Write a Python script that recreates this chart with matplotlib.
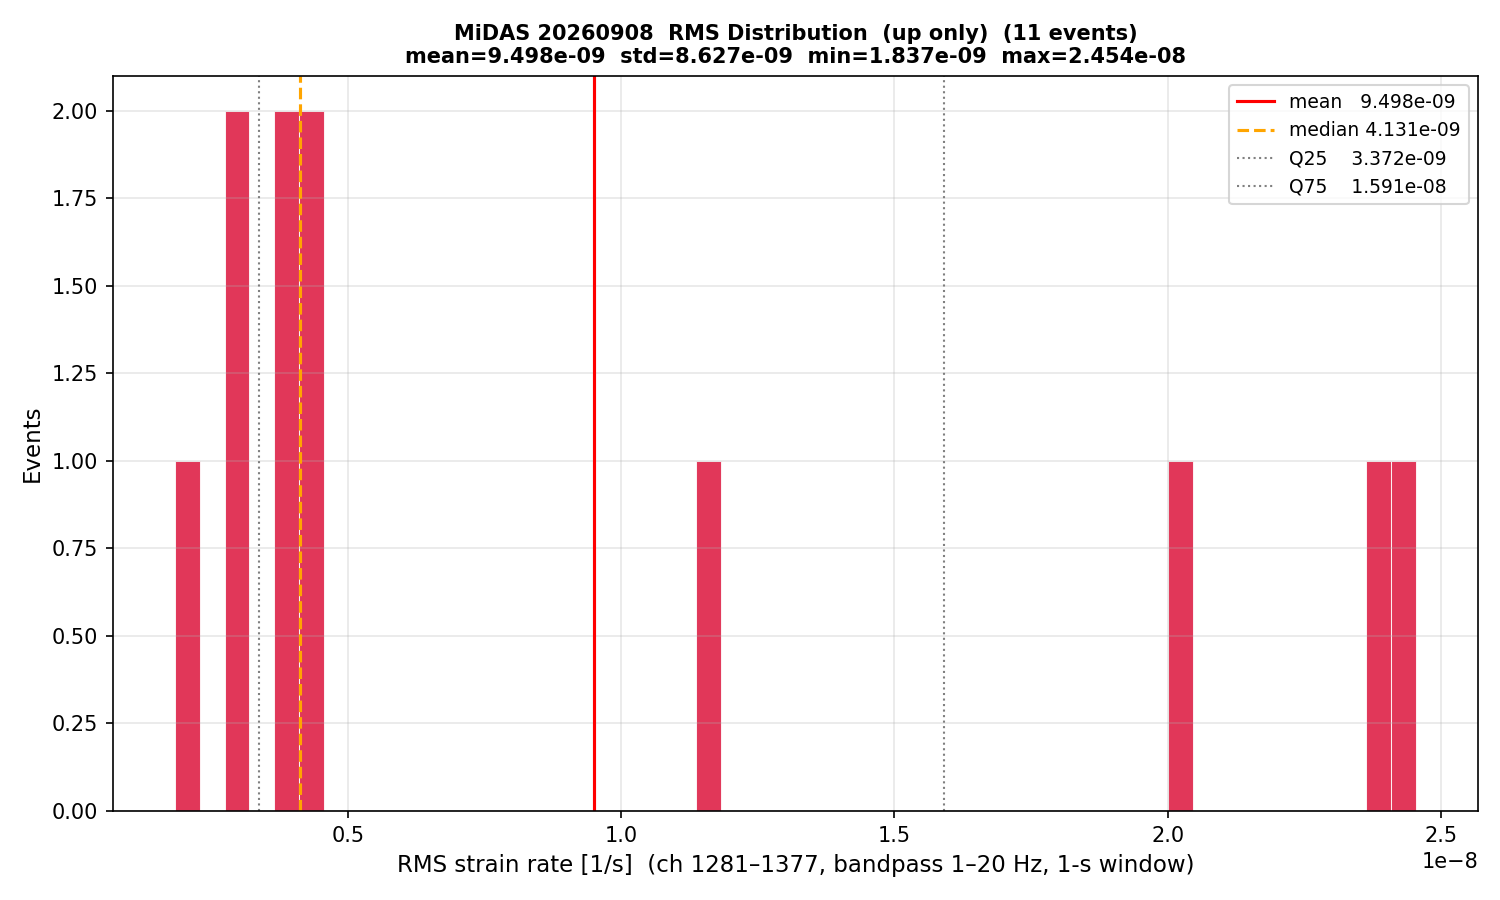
import numpy as np
import matplotlib
matplotlib.use('Agg')
import matplotlib.pyplot as plt

# RMS strain rate per event (1e-9 units)
rms_e9 = [1.837, 2.95, 3.05, 3.694, 4.006, 4.131, 4.40, 11.63, 20.19, 24.05, 24.54]
date = '20260908'
direction = 'up only'
n_bins = 50

rms = np.array(rms_e9) * 1e-9
mean = rms.mean()
std = rms.std()
med = np.median(rms)
q25, q75 = np.percentile(rms, [25, 75])

fig = plt.figure(figsize=[10, 6], dpi=150)
ax = fig.add_subplot(111)
ax.hist(rms, bins=n_bins, color='crimson', alpha=0.85, edgecolor='white', linewidth=0.5)

ax.axvline(mean, color='red', lw=1.5, label='mean   %.3e' % mean)
ax.axvline(med, color='orange', lw=1.5, ls='--', label='median %.3e' % med)
ax.axvline(q25, color='gray', lw=1, ls=':', label='Q25    %.3e' % q25)
ax.axvline(q75, color='gray', lw=1, ls=':', label='Q75    %.3e' % q75)

ax.set_xlabel('RMS strain rate [1/s]  (ch 1281\u20131377, bandpass 1\u201320 Hz, 1-s window)', fontsize=11)
ax.set_ylabel('Events', fontsize=11)
ax.set_title('MiDAS %s  RMS Distribution  (%s)  (%d events)\n'
             'mean=%.3e  std=%.3e  min=%.3e  max=%.3e'
             % (date, direction, len(rms), mean, std, rms.min(), rms.max()),
             fontsize=10, fontweight='bold')
ax.grid(alpha=0.3)
ax.legend(fontsize=9, loc='upper right')

fig.subplots_adjust(left=0.0753, right=0.9853, top=0.9156, bottom=0.0989)
plt.savefig('out.png', dpi=150)
